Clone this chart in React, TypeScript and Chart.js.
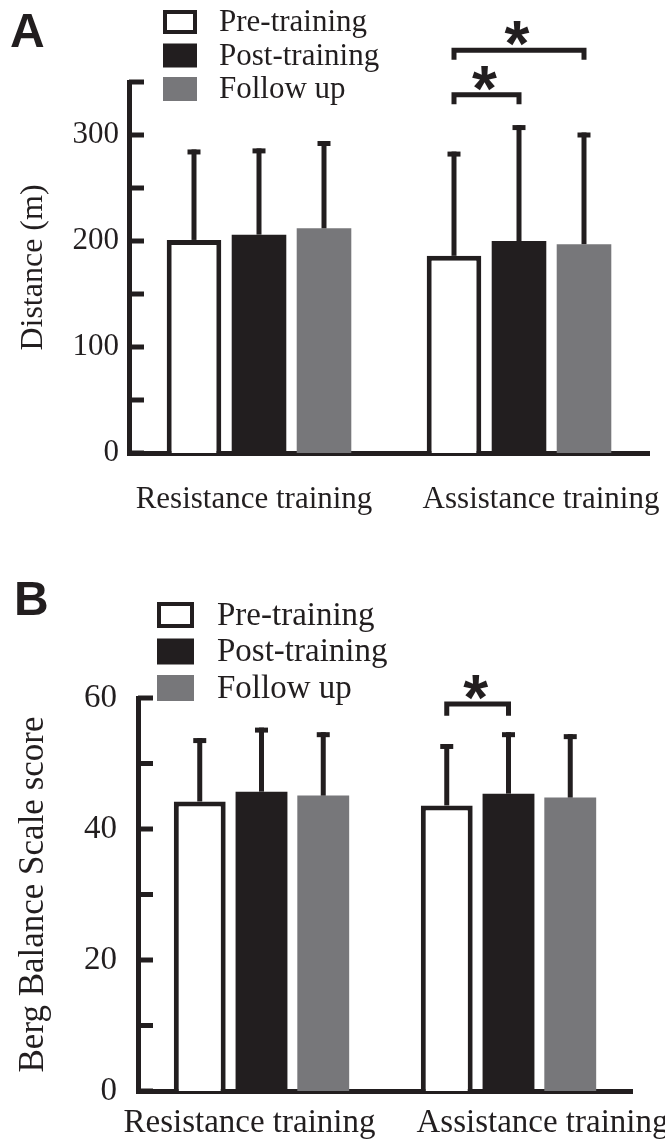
import React, { useEffect, useRef } from 'react';
import { Chart, registerables } from 'chart.js';

Chart.register(...registerables);

// ---------- data ----------
const categories = ['Resistance training', 'Assistance training'];
const seriesNames = ['Pre-training', 'Post-training', 'Follow up'];

// Panel A: 6-minute walk distance (m)
const distancePre = [201, 186];
const distancePost = [206, 200];
const distanceFollow = [212, 197];
const distancePreSD = [83, 96];
const distancePostSD = [79, 107];
const distanceFollowSD = [80, 103];
const distanceTicks = [0, 100, 200, 300];

// Panel B: Berg Balance Scale score
const bergPre = [44.2, 43.6];
const bergPost = [45.7, 45.4];
const bergFollow = [45.1, 44.8];
const bergPreSD = [9.3, 9.0];
const bergPostSD = [9.4, 9.0];
const bergFollowSD = [9.3, 9.3];
const bergTicks = [0, 20, 40, 60];

// significance brackets: category index, from series, to series, level (data units)
const distanceSignif = [
  { cat: 1, from: 0, to: 2, level: 380, legTo: 371 },
  { cat: 1, from: 0, to: 1, level: 338, legTo: 329 },
];
const bergSignif = [{ cat: 1, from: 0, to: 1, level: 59.1, legTo: 57.3 }];

// ---------- styles ----------
const INK = '#221e1f';
const GRAY = '#77777a';
const SERIF = "'Liberation Serif', 'Times New Roman', serif";
const SANS = "'Liberation Sans', Arial, sans-serif";

type PanelCfg = {
  letter: string;
  width: number;
  height: number;
  area: { left: number; right: number; top: number; bottom: number };
  yMax: number;
  step: number;
  tickLabels: number[];
  yTitle: string;
  fontSize: number;
  titleSize: number;
  tickPadding: number;
  titlePad: number;
  means: number[][];
  sds: number[][];
  signif: { cat: number; from: number; to: number; level: number; legTo: number }[];
  legend: { x: number; top: number; gap: number; w: number; h: number; textX: number };
  letterPos: { x: number; y: number };
  xLabelY: number;
  xLabelShift: number[];
};

const panelA: PanelCfg = {
  letter: 'A',
  width: 665,
  height: 540,
  area: { left: 129, right: 649, top: 82, bottom: 453 },
  yMax: 350,
  step: 50,
  tickLabels: distanceTicks,
  yTitle: 'Distance (m)',
  fontSize: 31,
  titleSize: 32,
  tickPadding: 10,
  titlePad: 14,
  means: [distancePre, distancePost, distanceFollow],
  sds: [distancePreSD, distancePostSD, distanceFollowSD],
  signif: distanceSignif,
  legend: { x: 163, top: 10, gap: 33.5, w: 34, h: 24, textX: 219 },
  letterPos: { x: 10, y: 47 },
  xLabelY: 508,
  xLabelShift: [-5, 22],
};

const panelB: PanelCfg = {
  letter: 'B',
  width: 665,
  height: 605,
  area: { left: 138, right: 632, top: 158, bottom: 551 },
  yMax: 60,
  step: 10,
  tickLabels: bergTicks,
  yTitle: 'Berg Balance Scale score',
  fontSize: 33,
  titleSize: 35,
  tickPadding: 21,
  titlePad: 13,
  means: [bergPre, bergPost, bergFollow],
  sds: [bergPreSD, bergPostSD, bergFollowSD],
  signif: bergSignif,
  legend: { x: 157, top: 62, gap: 36.5, w: 37, h: 26, textX: 217 },
  letterPos: { x: 14, y: 75 },
  xLabelY: 592,
  xLabelShift: [-12, 34],
};

function makePlugin(cfg: PanelCfg) {
  return {
    id: 'figure' + cfg.letter,
    afterDatasetsDraw(chart: any) {
      const ctx = chart.ctx;
      const y = chart.scales.y;
      ctx.save();
      ctx.strokeStyle = INK;
      ctx.lineWidth = 5;
      ctx.lineCap = 'butt';
      cfg.means.forEach((series, d) => {
        const meta = chart.getDatasetMeta(d);
        series.forEach((m, i) => {
          const bar = meta.data[i];
          const top = y.getPixelForValue(m + cfg.sds[d][i]);
          ctx.beginPath();
          ctx.moveTo(bar.x, bar.y);
          ctx.lineTo(bar.x, top - 2.5);
          ctx.stroke();
          ctx.beginPath();
          ctx.moveTo(bar.x - 6.5, top);
          ctx.lineTo(bar.x + 6.5, top);
          ctx.stroke();
        });
      });
      ctx.restore();
    },
    afterDraw(chart: any) {
      const ctx = chart.ctx;
      const y = chart.scales.y;
      const x = chart.scales.x;
      const area = chart.chartArea;
      ctx.save();
      // inward tick marks
      ctx.strokeStyle = INK;
      ctx.lineWidth = 5;
      y.ticks.forEach((t: any) => {
        const py = y.getPixelForValue(t.value);
        ctx.beginPath();
        ctx.moveTo(area.left, py);
        ctx.lineTo(area.left + 15, py);
        ctx.stroke();
      });
      // significance brackets
      cfg.signif.forEach((s) => {
        const x1 = chart.getDatasetMeta(s.from).data[s.cat].x;
        const x2 = chart.getDatasetMeta(s.to).data[s.cat].x;
        const py = y.getPixelForValue(s.level);
        const pl = y.getPixelForValue(s.legTo);
        ctx.lineWidth = 5;
        ctx.lineJoin = 'miter';
        ctx.beginPath();
        ctx.moveTo(x1, pl);
        ctx.lineTo(x1, py);
        ctx.lineTo(x2, py);
        ctx.lineTo(x2, pl);
        ctx.stroke();
        ctx.fillStyle = INK;
        ctx.font = `bold 64px ${SANS}`;
        ctx.textAlign = 'center';
        ctx.textBaseline = 'alphabetic';
        const m = ctx.measureText('*');
        const bottom = py - 4;
        ctx.fillText('*', (x1 + x2) / 2 - 2, bottom - m.actualBoundingBoxDescent);
      });
      // legend
      const L = cfg.legend;
      ctx.font = `${cfg.fontSize}px ${SERIF}`;
      ctx.textAlign = 'left';
      ctx.textBaseline = 'middle';
      const fills = ['#ffffff', INK, GRAY];
      seriesNames.forEach((name, i) => {
        const by = L.top + i * L.gap;
        ctx.fillStyle = fills[i];
        ctx.fillRect(L.x, by, L.w, L.h);
        if (i === 0) {
          ctx.lineWidth = 4;
          ctx.strokeStyle = INK;
          ctx.strokeRect(L.x + 2, by + 2, L.w - 4, L.h - 4);
        }
        ctx.fillStyle = INK;
        ctx.fillText(name, L.textX, by + L.h / 2 + 1);
      });
      // x category labels
      ctx.textAlign = 'center';
      ctx.textBaseline = 'alphabetic';
      categories.forEach((c, i) => {
        ctx.fillText(c, x.getPixelForValue(i) + cfg.xLabelShift[i], cfg.xLabelY);
      });
      // panel letter
      ctx.font = `bold 48px ${SANS}`;
      ctx.textAlign = 'left';
      ctx.fillText(cfg.letter, cfg.letterPos.x, cfg.letterPos.y);
      ctx.restore();
    },
  };
}

function Panel({ cfg }: { cfg: PanelCfg }) {
  const ref = useRef<HTMLCanvasElement | null>(null);
  useEffect(() => {
    if (!ref.current) return;
    const a = cfg.area;
    const xAxisH = 40;
    const chart = new Chart(ref.current, {
      type: 'bar',
      data: {
        labels: categories,
        datasets: [
          {
            label: seriesNames[0],
            data: cfg.means[0],
            backgroundColor: '#ffffff',
            borderColor: INK,
            borderWidth: 5,
            borderSkipped: 'start',
          },
          { label: seriesNames[1], data: cfg.means[1], backgroundColor: INK, borderWidth: 0 },
          { label: seriesNames[2], data: cfg.means[2], backgroundColor: GRAY, borderWidth: 0 },
        ],
      },
      options: {
        responsive: false,
        animation: false,
        devicePixelRatio: 1,
        events: [],
        layout: {
          padding: {
            left: 0,
            top: a.top,
            right: cfg.width - a.right,
            bottom: cfg.height - a.bottom - xAxisH,
          },
        },
        datasets: {
          bar: { categoryPercentage: 0.75, barPercentage: 0.84 },
        },
        plugins: { legend: { display: false }, tooltip: { enabled: false }, title: { display: false } },
        scales: {
          x: {
            type: 'category',
            z: 1,
            grid: { display: false, drawTicks: false },
            border: { display: true, color: INK, width: 5 },
            ticks: { display: false },
            afterFit: (s: any) => {
              s.height = xAxisH;
            },
          },
          y: {
            type: 'linear',
            min: 0,
            max: cfg.yMax,
            z: 1,
            grid: { display: false, drawTicks: false },
            border: { display: true, color: INK, width: 5 },
            ticks: {
              stepSize: cfg.step,
              padding: cfg.tickPadding,
              color: INK,
              font: { family: SERIF, size: cfg.fontSize },
              callback: (v: any) => (cfg.tickLabels.includes(Number(v)) ? String(v) : ''),
            },
            title: {
              display: true,
              text: cfg.yTitle,
              color: INK,
              font: { family: SERIF, size: cfg.titleSize },
              padding: { top: cfg.titlePad, bottom: 0 },
            },
            afterFit: (s: any) => {
              s.width = a.left;
            },
          },
        },
      },
      plugins: [makePlugin(cfg)],
    } as any);
    return () => chart.destroy();
  }, [cfg]);
  return (
    <canvas
      ref={ref}
      width={cfg.width}
      height={cfg.height}
      style={{ display: 'block', width: cfg.width, height: cfg.height }}
    />
  );
}

export default function App() {
  return (
    <div style={{ position: 'absolute', left: 0, top: 0, width: 665, height: 1145, background: '#fff' }}>
      <Panel cfg={panelA} />
      <Panel cfg={panelB} />
    </div>
  );
}
